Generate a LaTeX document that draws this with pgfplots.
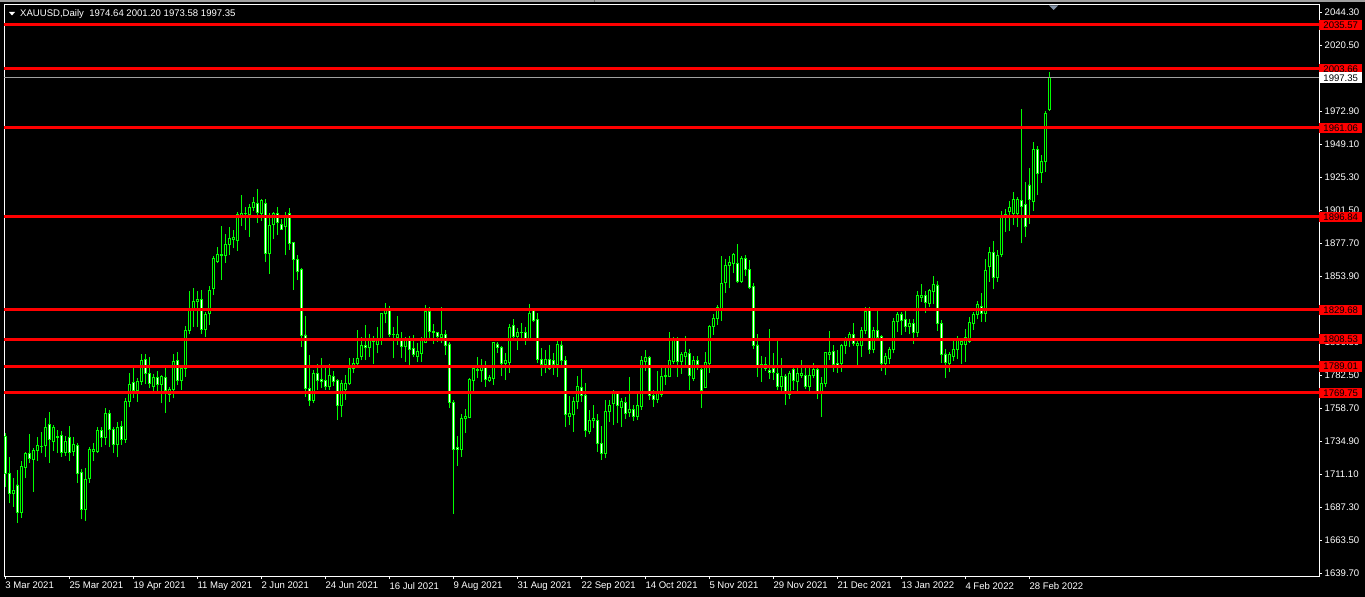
\documentclass[border=0pt]{standalone}
\usepackage{fontspec}
\setmainfont{Liberation Sans}
\usepackage{pgfplots}
\usepackage{pgfplotstable}
\pgfplotsset{compat=1.18}
\definecolor{mtgreen}{RGB}{0,255,0}
\definecolor{mtred}{RGB}{255,0,0}
\definecolor{mtgray}{RGB}{160,160,160}
\definecolor{mtblue}{RGB}{130,145,165}
\newcommand{\lbl}{\fontsize{9.6}{10}\selectfont}

\pgfplotstableread{
i o h l c
0 1738.0 1740.9 1701.9 1711.3
1 1711.3 1723.8 1690.1 1697.3
2 1697.3 1708.2 1687.6 1699.7
3 1703.3 1714.1 1676.1 1683.3
4 1683.3 1720.6 1679.7 1716.5
5 1716.1 1727.4 1708.2 1726.2
6 1726.2 1740.1 1719.0 1722.6
7 1721.9 1730.3 1698.5 1728.1
8 1728.1 1738.2 1720.9 1731.5
9 1730.8 1741.8 1726.2 1731.1
10 1732.0 1751.5 1723.8 1745.0
11 1747.2 1755.8 1719.0 1736.3
12 1734.9 1746.6 1728.1 1745.0
13 1737.5 1743.0 1726.6 1738.7
14 1739.2 1742.3 1723.8 1726.6
15 1726.6 1738.7 1724.3 1734.6
16 1737.8 1745.7 1720.9 1726.6
17 1727.4 1737.8 1724.3 1732.7
18 1732.0 1733.4 1705.0 1711.8
19 1712.5 1714.6 1678.5 1685.3
20 1685.8 1715.4 1677.5 1707.4
21 1708.2 1731.0 1705.0 1729.1
22 1727.4 1733.4 1720.9 1728.6
23 1727.4 1745.4 1726.6 1743.0
24 1743.0 1745.4 1730.5 1737.8
25 1737.8 1758.7 1732.2 1755.1
26 1755.1 1757.5 1730.5 1743.5
27 1743.5 1745.4 1726.6 1732.7
28 1732.7 1749.0 1723.3 1745.0
29 1745.4 1749.7 1732.2 1736.3
30 1736.3 1765.9 1733.9 1763.9
31 1763.9 1784.4 1759.4 1776.0
32 1777.5 1788.0 1766.3 1771.2
33 1771.2 1780.3 1763.5 1778.4
34 1777.9 1797.9 1775.5 1793.5
35 1794.1 1797.9 1776.2 1784.0
36 1784.0 1795.5 1773.1 1776.8
37 1774.8 1783.5 1769.0 1781.1
38 1781.1 1785.8 1771.4 1776.2
39 1776.2 1782.7 1762.3 1782.0
40 1781.1 1787.6 1755.5 1771.4
41 1768.8 1773.8 1763.5 1772.4
42 1772.4 1797.9 1765.9 1792.3
43 1793.5 1799.6 1775.5 1778.6
44 1778.6 1788.7 1771.9 1787.1
45 1787.6 1818.1 1781.5 1814.7
46 1814.7 1843.4 1812.3 1829.2
47 1829.2 1845.3 1817.6 1835.6
48 1835.6 1843.4 1817.6 1837.6
49 1836.9 1844.1 1812.3 1815.7
50 1815.7 1828.5 1810.0 1826.1
51 1826.8 1847.0 1818.8 1843.4
52 1845.3 1868.6 1840.5 1867.0
53 1864.5 1875.4 1863.4 1869.4
54 1868.7 1890.3 1851.3 1870.1
55 1868.7 1884.5 1863.8 1877.1
56 1877.1 1889.8 1869.4 1881.4
57 1880.7 1887.4 1874.2 1882.2
58 1880.2 1900.6 1872.5 1898.3
59 1897.8 1912.7 1890.3 1899.5
60 1899.0 1903.8 1887.4 1899.7
61 1898.3 1906.2 1882.2 1903.8
62 1903.8 1911.0 1901.4 1907.1
63 1906.7 1916.8 1892.3 1899.9
64 1899.5 1909.6 1894.1 1908.4
65 1906.7 1909.6 1864.5 1870.6
66 1870.6 1899.5 1855.7 1891.0
67 1891.5 1900.6 1880.7 1899.5
68 1899.5 1903.8 1883.8 1892.7
69 1891.5 1895.2 1887.4 1888.1
70 1889.8 1900.2 1869.4 1897.5
71 1899.5 1903.1 1873.0 1877.8
72 1878.3 1879.0 1844.1 1866.3
73 1866.3 1869.4 1851.3 1857.3
74 1859.0 1859.8 1803.2 1811.6
75 1811.6 1825.3 1767.0 1773.1
76 1773.1 1797.2 1760.4 1764.2
77 1764.2 1786.3 1762.7 1783.5
78 1783.5 1790.7 1771.9 1778.6
79 1779.6 1795.2 1773.1 1777.9
80 1778.6 1787.6 1771.9 1774.8
81 1774.8 1790.7 1771.9 1782.7
82 1781.5 1785.8 1774.8 1777.9
83 1778.6 1779.6 1750.2 1760.4
84 1760.4 1779.1 1752.2 1776.7
85 1772.4 1782.7 1764.7 1776.7
86 1776.7 1794.8 1775.5 1787.6
87 1787.6 1794.8 1784.0 1791.2
88 1791.2 1815.2 1790.0 1794.8
89 1795.9 1810.4 1793.5 1803.7
90 1803.7 1818.8 1793.5 1802.5
91 1802.7 1812.3 1795.9 1808.0
92 1807.3 1810.9 1790.7 1806.6
93 1805.1 1817.2 1798.4 1808.0
94 1809.2 1827.7 1804.4 1827.3
95 1826.8 1834.5 1820.1 1829.2
96 1829.2 1832.5 1810.4 1812.1
97 1812.1 1817.6 1794.8 1811.8
98 1809.7 1825.3 1804.4 1812.1
99 1807.5 1814.0 1794.8 1803.2
100 1803.2 1810.4 1792.3 1807.5
101 1807.5 1810.9 1790.0 1801.3
102 1802.0 1811.6 1795.5 1797.2
103 1796.4 1805.6 1792.3 1799.6
104 1798.4 1810.4 1792.3 1807.5
105 1806.0 1833.3 1805.6 1828.4
106 1828.4 1832.0 1808.0 1814.0
107 1813.3 1819.6 1805.1 1814.5
108 1813.5 1814.0 1806.8 1810.4
109 1810.0 1831.6 1805.6 1812.3
110 1812.1 1815.2 1797.2 1803.9
111 1805.1 1806.8 1758.7 1762.7
112 1762.7 1764.7 1682.4 1729.3
113 1730.2 1738.7 1717.0 1728.6
114 1729.1 1754.6 1723.8 1751.5
115 1751.5 1758.2 1741.1 1753.1
116 1752.2 1780.3 1751.5 1779.6
117 1779.1 1788.7 1771.4 1787.6
118 1785.8 1795.5 1780.3 1786.8
119 1785.8 1794.1 1777.9 1788.3
120 1788.3 1793.1 1774.3 1779.6
121 1779.1 1782.7 1777.9 1781.1
122 1780.3 1806.8 1775.5 1806.0
123 1805.1 1806.8 1798.8 1802.7
124 1802.7 1803.7 1782.0 1790.7
125 1790.7 1798.8 1779.1 1793.1
126 1791.6 1819.6 1784.4 1817.2
127 1818.8 1822.9 1808.0 1810.4
128 1810.4 1816.4 1800.8 1813.3
129 1813.1 1820.1 1808.0 1813.3
130 1813.3 1817.2 1804.4 1809.2
131 1809.2 1834.0 1808.0 1827.3
132 1829.2 1830.9 1821.2 1822.4
133 1822.9 1827.7 1791.6 1794.1
134 1794.1 1802.0 1782.0 1790.0
135 1790.0 1800.8 1783.9 1794.1
136 1794.1 1804.4 1786.3 1787.6
137 1793.5 1798.8 1782.7 1790.0
138 1790.0 1807.5 1781.1 1805.1
139 1804.4 1807.5 1790.0 1793.1
140 1793.5 1796.4 1745.0 1753.9
141 1752.6 1767.6 1746.6 1754.6
142 1753.9 1767.1 1741.8 1763.9
143 1763.5 1782.0 1758.0 1774.8
144 1773.8 1787.1 1763.5 1767.6
145 1768.3 1776.7 1737.8 1743.0
146 1741.8 1757.5 1740.1 1750.2
147 1749.7 1761.1 1744.3 1751.5
148 1750.2 1754.6 1727.4 1733.4
149 1733.4 1745.9 1721.4 1726.2
150 1726.2 1764.7 1722.6 1756.7
151 1756.7 1764.7 1749.0 1760.4
152 1762.3 1771.9 1746.6 1769.9
153 1769.5 1771.4 1747.9 1760.4
154 1759.4 1765.9 1745.4 1763.5
155 1762.7 1766.6 1751.0 1755.1
156 1755.5 1781.1 1752.6 1757.5
157 1757.5 1761.1 1749.7 1753.1
158 1753.1 1769.5 1750.2 1760.4
159 1759.8 1796.4 1757.5 1793.1
160 1792.3 1800.8 1785.8 1795.5
161 1795.5 1796.4 1764.7 1767.6
162 1767.6 1771.9 1759.8 1764.7
163 1764.7 1785.8 1762.7 1770.7
164 1769.0 1788.3 1766.6 1782.0
165 1781.5 1788.3 1775.5 1782.7
166 1782.0 1814.0 1781.1 1793.1
167 1792.3 1810.4 1790.7 1808.5
168 1808.5 1810.4 1781.1 1792.3
169 1792.3 1799.6 1783.5 1797.2
170 1796.4 1810.9 1790.0 1798.8
171 1798.4 1801.3 1771.9 1782.7
172 1780.3 1796.4 1778.6 1793.5
173 1793.1 1796.4 1786.3 1790.0
174 1786.8 1790.0 1758.7 1771.4
175 1773.8 1799.6 1773.1 1791.6
176 1791.2 1818.8 1784.4 1818.1
177 1818.1 1826.8 1811.6 1823.7
178 1823.7 1833.3 1818.8 1831.6
179 1830.9 1868.7 1821.9 1849.0
180 1849.4 1866.3 1842.2 1862.1
181 1861.6 1868.7 1845.3 1864.1
182 1862.9 1871.0 1856.2 1869.4
183 1862.9 1877.3 1849.4 1850.1
184 1850.1 1868.7 1849.4 1867.0
185 1867.0 1869.4 1854.2 1859.1
186 1859.1 1865.8 1844.6 1846.1
187 1846.5 1849.4 1801.3 1803.7
188 1804.4 1812.3 1781.1 1789.2
189 1789.2 1796.4 1777.9 1790.0
190 1790.0 1795.5 1785.8 1787.8
191 1786.3 1815.7 1779.6 1784.9
192 1787.6 1798.8 1779.1 1784.4
193 1784.0 1807.5 1771.9 1774.3
194 1774.3 1794.8 1771.4 1782.0
195 1782.0 1783.5 1761.1 1770.7
196 1769.0 1785.8 1765.2 1783.5
197 1786.8 1788.7 1771.9 1779.1
198 1777.9 1788.7 1771.4 1784.0
199 1782.2 1793.5 1780.3 1784.0
200 1782.7 1787.6 1772.4 1774.8
201 1774.8 1787.6 1771.4 1782.7
202 1782.7 1791.2 1780.3 1786.8
203 1786.8 1788.7 1765.2 1770.7
204 1770.7 1781.1 1752.6 1776.7
205 1776.7 1799.6 1774.3 1798.8
206 1797.6 1814.7 1793.5 1799.1
207 1799.6 1804.4 1785.1 1790.0
208 1790.7 1800.8 1784.4 1789.2
209 1790.7 1805.1 1785.1 1803.7
210 1803.7 1810.4 1797.9 1808.0
211 1809.2 1814.0 1802.7 1812.3
212 1812.3 1820.5 1803.7 1805.6
213 1804.2 1808.0 1790.0 1805.6
214 1803.7 1817.2 1795.9 1814.7
215 1814.7 1832.0 1812.3 1828.4
216 1829.2 1832.0 1797.9 1801.3
217 1801.3 1817.2 1798.4 1814.7
218 1814.7 1829.2 1808.0 1810.0
219 1810.4 1811.6 1785.8 1790.7
220 1790.7 1798.4 1782.7 1796.4
221 1794.8 1802.7 1790.7 1801.3
222 1801.3 1823.7 1798.4 1821.2
223 1821.2 1828.5 1814.0 1826.1
224 1826.1 1828.5 1811.6 1822.0
225 1822.9 1829.2 1814.0 1817.6
226 1817.6 1822.9 1812.3 1819.6
227 1819.6 1822.9 1805.1 1813.3
228 1813.3 1843.6 1810.0 1840.5
229 1838.8 1848.4 1835.6 1840.5
230 1839.8 1843.6 1827.7 1835.0
231 1834.5 1844.6 1831.6 1843.6
232 1842.9 1854.2 1834.0 1848.4
233 1847.7 1850.8 1814.7 1819.6
234 1819.6 1822.4 1791.2 1797.2
235 1797.9 1801.3 1780.3 1791.6
236 1791.2 1799.6 1785.1 1797.2
237 1796.4 1807.5 1793.1 1801.3
238 1800.8 1810.9 1794.1 1807.5
239 1805.1 1808.0 1790.7 1806.8
240 1805.1 1815.7 1792.3 1810.0
241 1806.8 1824.4 1806.0 1820.5
242 1820.1 1828.5 1815.2 1826.1
243 1826.1 1836.4 1822.9 1833.3
244 1832.5 1842.2 1821.2 1826.8
245 1826.8 1866.3 1821.2 1858.0
246 1860.9 1874.9 1850.1 1871.0
247 1871.0 1879.7 1844.6 1853.3
248 1853.3 1873.0 1850.1 1868.7
249 1869.4 1901.4 1867.7 1897.0
250 1897.0 1902.4 1886.2 1898.3
251 1900.6 1908.6 1886.9 1903.8
252 1899.0 1915.1 1891.0 1909.6
253 1899.0 1911.0 1889.4 1909.1
254 1908.6 1974.6 1877.8 1904.2
255 1905.5 1922.3 1882.6 1889.8
256 1919.9 1932.0 1892.0 1909.6
257 1907.9 1951.2 1901.4 1945.2
258 1945.2 1948.1 1912.7 1928.3
259 1928.8 1941.6 1921.6 1936.7
260 1936.7 1973.3 1929.5 1971.2
261 1974.64 2001.20 1973.58 1997.35
}\data

\pgfplotsset{
  geom/.style={scale only axis, width=1315bp, height=571bp,
    at={(4bp,21bp)}, anchor=south west,
    xmin=-0.325, xmax=328.425, ymin=1637.59, ymax=2049.86},
}
\tikzset{
  tag/.style={anchor=west, inner sep=0pt, minimum height=10.5bp,
    minimum width=43bp, font=\lbl, text=black},
}

\begin{document}
\begin{tikzpicture}
\fill[black] (0,0) rectangle (1365bp,597bp);
\useasboundingbox (0,0) rectangle (1365bp,597bp);
\fill[mtgray] (0,594.5bp) rectangle (1365bp,597bp);
\draw[mtgray!70!black, line width=0.8bp] (594bp,594.5bp) -- (594bp,597bp);

% axis with frame, ticks and wicks
\begin{axis}[geom,
  axis line style={white, line width=1bp},
  tick style={white, line width=0.8bp},
  major tick length=3bp, tick align=outside,
  xtick pos=bottom, ytick pos=right, yticklabel pos=right,
  xtick={0,16,...,256},
  xticklabels={3 Mar 2021,25 Mar 2021,19 Apr 2021,11 May 2021,2 Jun 2021,24 Jun 2021,16 Jul 2021,9 Aug 2021,31 Aug 2021,22 Sep 2021,14 Oct 2021,5 Nov 2021,29 Nov 2021,21 Dec 2021,13 Jan 2022,4 Feb 2022,28 Feb 2022},
  xticklabel style={anchor=north west, inner xsep=0pt, inner ysep=3bp, font=\lbl, text=white},
  ytick={1639.7,1663.5,1687.3,1711.1,1734.9,1758.7,1782.5,1806.3,1830.1,1853.9,1877.7,1901.5,1925.3,1949.1,1972.9,1996.7,2020.5,2044.3},
  yticklabel style={font=\lbl, text=white, inner xsep=2.5bp,
    /pgf/number format/.cd, fixed, fixed zerofill, precision=2, 1000 sep={}, assume math mode=true},
]
\addplot[draw=none, mark=none, forget plot,
  error bars/.cd, y dir=plus, y explicit, error mark=none,
  error bar style={draw=mtgreen, line width=1bp, solid}]
  table[x=i, y=l, y error expr=\thisrow{h}-\thisrow{l}] {\data};
\end{axis}

% candle bodies
\begin{axis}[geom, hide axis, ybar stacked, bar width=2.3bp]
\addplot[draw=none, fill=none] table[x=i, y expr={min(\thisrow{o},\thisrow{c})}] {\data};
\addplot[draw=mtgreen, fill=black, line width=0.9bp] table[x=i, y expr={max(\thisrow{c}-\thisrow{o},0)}] {\data};
\addplot[draw=mtgreen, fill=white, line width=0.9bp] table[x=i, y expr={max(\thisrow{o}-\thisrow{c},0)}] {\data};
\end{axis}

% levels and price tags
\begin{axis}[geom, hide axis, clip=false]
\addplot[mtgray, line width=1bp] coordinates {(-0.325,1997.35) (328.425,1997.35)};
\addplot[mtred, line width=3bp] coordinates {(-0.325,2035.57) (328.425,2035.57)};
\addplot[mtred, line width=3bp] coordinates {(-0.325,2003.66) (328.425,2003.66)};
\addplot[mtred, line width=3bp] coordinates {(-0.325,1961.06) (328.425,1961.06)};
\addplot[mtred, line width=3bp] coordinates {(-0.325,1896.84) (328.425,1896.84)};
\addplot[mtred, line width=3bp] coordinates {(-0.325,1829.68) (328.425,1829.68)};
\addplot[mtred, line width=3bp] coordinates {(-0.325,1808.53) (328.425,1808.53)};
\addplot[mtred, line width=3bp] coordinates {(-0.325,1789.01) (328.425,1789.01)};
\addplot[mtred, line width=3bp] coordinates {(-0.325,1769.75) (328.425,1769.75)};
\node[tag, fill=mtred] at (axis cs:328.425,2035.57) {2035.57};
\node[tag, fill=mtred] at (axis cs:328.425,2003.66) {2003.66};
\node[tag, fill=white] at (axis cs:328.425,1997.35) {1997.35};
\node[tag, fill=mtred] at (axis cs:328.425,1961.06) {1961.06};
\node[tag, fill=mtred] at (axis cs:328.425,1896.84) {1896.84};
\node[tag, fill=mtred] at (axis cs:328.425,1829.68) {1829.68};
\node[tag, fill=mtred] at (axis cs:328.425,1808.53) {1808.53};
\node[tag, fill=mtred] at (axis cs:328.425,1789.01) {1789.01};
\node[tag, fill=mtred] at (axis cs:328.425,1769.75) {1769.75};
\end{axis}

% title and shift marker
\fill[white] (9bp,585bp) -- (15bp,585bp) -- (12bp,581.5bp) -- cycle;
\node[anchor=base west, inner sep=0pt, font=\lbl, text=white] at (20bp,580bp) {XAUUSD,Daily\ \ 1974.64 2001.20 1973.58 1997.35};
\fill[mtblue] (1049bp,591.5bp) -- (1058bp,591.5bp) -- (1053.5bp,587bp) -- cycle;
\end{tikzpicture}
\end{document}
